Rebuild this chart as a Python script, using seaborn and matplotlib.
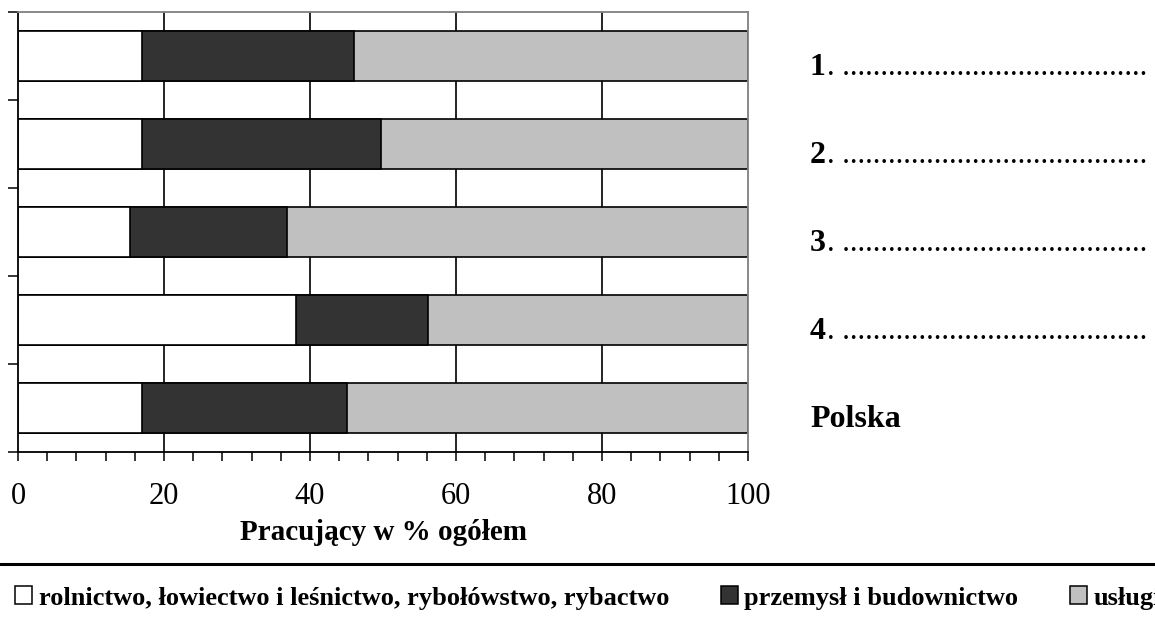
import numpy as np
import seaborn as sns
import matplotlib.pyplot as plt
import matplotlib.transforms as mtransforms
from matplotlib.lines import Line2D
from matplotlib.patches import Patch

# dane (% pracujacych)
regions = ['1', '2', '3', '4', 'Polska']
rolnictwo = [17.0, 17.0, 15.3, 38.1, 17.0]
przemysl = [29.0, 32.7, 21.5, 18.0, 28.0]
uslugi = [54.0, 50.3, 63.2, 43.9, 55.0]
series_names = ['rolnictwo, łowiectwo i leśnictwo, rybołówstwo, rybactwo',
                'przemysł i budownictwo', 'usługi']
colors = ['#ffffff', '#333333', '#c0c0c0']

sns.set_style('white')
plt.rcParams['font.family'] = ['Liberation Serif', 'DejaVu Serif']
plt.rcParams['text.color'] = 'black'
plt.rcParams['axes.labelcolor'] = 'black'
plt.rcParams['xtick.color'] = 'black'
plt.rcParams['ytick.color'] = 'black'

fig = plt.figure(figsize=(11.55, 6.27), dpi=100)
ax = fig.add_axes([18 / 1155, 1 - 452 / 627, 730 / 1155, 440 / 627])

cum1 = np.array(rolnictwo)
cum2 = cum1 + np.array(przemysl)
cum3 = cum2 + np.array(uslugi)

# stacked bars: longest first, so shorter ones lie on top
for vals, col in [(cum3, colors[2]), (cum2, colors[1]), (cum1, colors[0])]:
    sns.barplot(x=vals, y=regions, orient='h', color=col, edgecolor='black',
                linewidth=1.2, width=0.57, saturation=1, ax=ax)

ax.set_xlim(0, 100)
ax.set_ylim(len(regions) - 0.5, -0.5)
ax.set_xticks(np.arange(0, 101, 20))
ax.set_xticks(np.arange(0, 101, 4), minor=True)
ax.set_yticks(np.arange(-0.5, len(regions), 1))
ax.set_yticklabels([])
ax.set_ylabel('')
ax.tick_params(axis='x', which='both', direction='out', length=6.5, width=1.1,
               color='black', labelcolor='black', labelsize=22, pad=15, bottom=True)
ax.tick_params(axis='y', direction='out', length=7, width=1.1, color='black', left=True)

ax.set_axisbelow(True)
ax.xaxis.grid(True, which='major', color='black', lw=1.2)
gl = ax.get_xgridlines()
gl[0].set_visible(False)
gl[-1].set_visible(False)

for side in ['left', 'bottom']:
    ax.spines[side].set_color('black')
    ax.spines[side].set_linewidth(1.3)
for side in ['top', 'right']:
    ax.spines[side].set_color('#808080')
    ax.spines[side].set_linewidth(1.3)

ax.set_xlabel('Pracujący w % ogółem', fontsize=21, fontweight='bold', labelpad=6,
              color='black')

# etykiety po prawej stronie
trans = mtransforms.blended_transform_factory(fig.transFigure, ax.transData)
dots = '.' * 40
for i, name in enumerate(regions):
    y = i + 0.215
    ax.text(810 / 1155, y, name, transform=trans, fontsize=23, fontweight='bold',
            va='baseline', ha='left', color='black')
    if name != 'Polska':
        ax.text(827 / 1155, y, '. ' + dots, transform=trans, fontsize=22,
                va='baseline', ha='left', color='black')

fig.add_artist(Line2D([0, 1], [1 - 564 / 627, 1 - 564 / 627], transform=fig.transFigure,
                      color='black', lw=2.2))

handles = [Patch(facecolor=c, edgecolor='black', linewidth=1.1) for c in colors]
fig.legend(handles, series_names, loc='center left', bbox_to_anchor=(7 / 1155, 1 - 598 / 627),
           ncol=3, frameon=False, handlelength=0.65, handleheight=0.65, handletextpad=0.25,
           columnspacing=1.95, borderaxespad=0, borderpad=0.3, labelcolor='black',
           prop={'weight': 'bold', 'size': 19})

plt.savefig('out.png', dpi=100)
